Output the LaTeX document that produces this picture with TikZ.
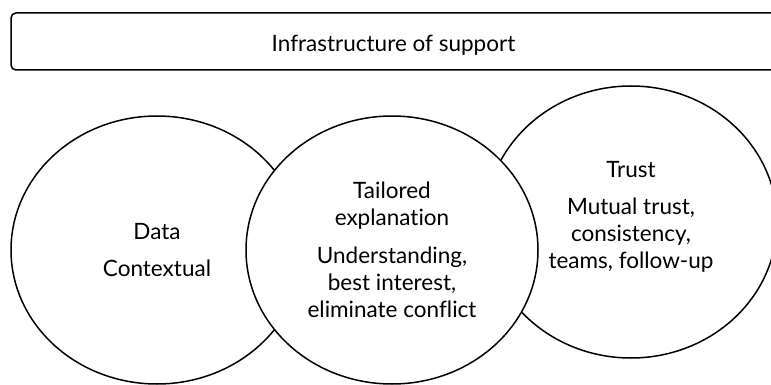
\documentclass[tikz,border=0pt]{standalone}
\usepackage{fontspec}
\setmainfont[Ligatures=NoCommon]{Lato}
\usetikzlibrary{shapes.geometric}

\begin{document}
\begin{tikzpicture}[x=1pt,y=-1pt]
  \tikzset{bubble/.style={ellipse,
      draw=black,
      line width=1.5pt,
      minimum width=292pt,
      minimum height=#1,
      inner sep=0pt,
      align=center,
      font=\fontsize{22.5}{27}\selectfont}
  }
  \useasboundingbox (0,0) rectangle (771,385);
  \clip (0,0) rectangle (771,385);
  \draw [line width=1.5pt,rounded corners=5pt] (11,13) rectangle (790,70);
  \node [font=\fontsize{22.5}{27}\selectfont,anchor=base] (support) at (393.5,52) {Infrastructure of support};
  \node [bubble=268pt] (data) at (157,250) {Data\\[10pt]Contextual};
  \node [bubble=272pt] (trust) at (631,222) {Trust\\[10pt]Mutual trust,\\consistency,\\teams, follow-up\\[-13pt]\mbox{}};
  \node [bubble=268pt,fill=white] (tailored) at (392,250) {Tailored\\explanation\\[11pt]Understanding,\\best interest,\\eliminate conflict};
\end{tikzpicture}
\end{document}
